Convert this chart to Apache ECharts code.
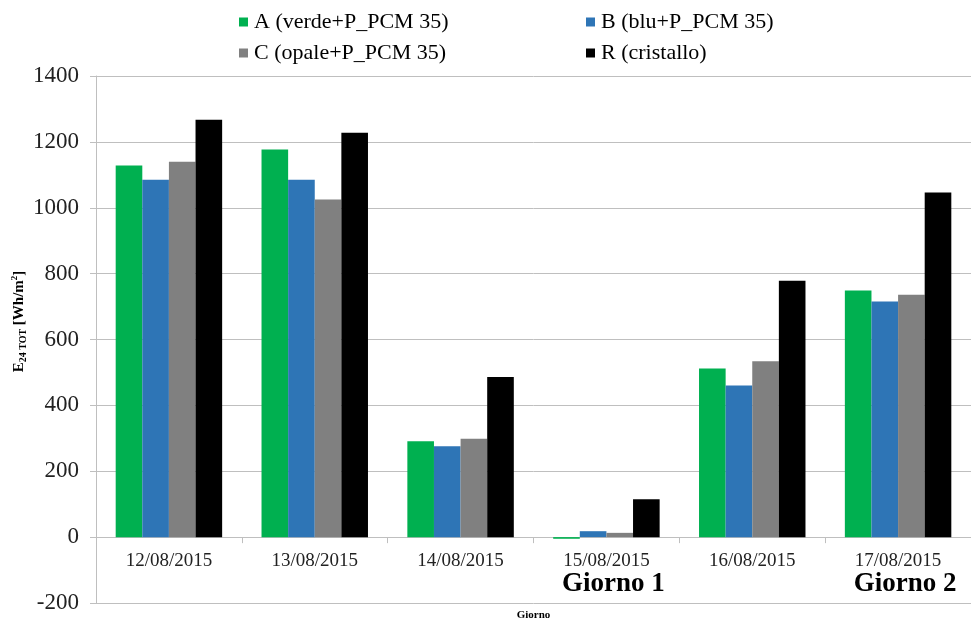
<!DOCTYPE html>
<html>
<head>
<meta charset="utf-8">
<script src="https://cdn.jsdelivr.net/npm/echarts@6/dist/echarts.min.js"></script>
<style>
  html, body { margin: 0; padding: 0; background: #fff; }
  #main { width: 971px; height: 624px; }
</style>
</head>
<body>
<div id="main"></div>
<script>
var chartDom = document.getElementById('main');
var myChart = echarts.init(chartDom);

// giorni
var days = ['12/08/2015', '13/08/2015', '14/08/2015', '15/08/2015', '16/08/2015', '17/08/2015'];
var dayNotes = ['', '', '', 'Giorno 1', '', 'Giorno 2'];

var seriesNames = ['A (verde+P_PCM 35)', 'B (blu+P_PCM 35)', 'C (opale+P_PCM 35)', 'R (cristallo)'];
var seriesColors = ['#00B050', '#2E75B6', '#808080', '#000000'];

// E24 TOT [Wh/m2]
var valuesA = [1128, 1177, 291, -5, 512, 749];
var valuesB = [1085, 1085, 276, 18, 460, 715];
var valuesC = [1140, 1025, 299, 13, 534, 736];
var valuesR = [1267, 1228, 486, 115, 778, 1046];

var allValues = [valuesA, valuesB, valuesC, valuesR];

var serif = 'Liberation Serif';

// legend items at fixed spots, 2 x 2
var legendPos = [[234, 6], [581, 6], [234, 37], [581, 37]];
var legends = seriesNames.map(function (n, i) {
    return {
        data: [n],
        left: legendPos[i][0],
        top: legendPos[i][1],
        icon: 'rect',
        itemWidth: 9,
        itemHeight: 9,
        itemGap: 6,
        textStyle: { fontFamily: serif, fontSize: 22, color: '#000', padding: [0, 0, 0, 1] }
    };
});

var option = {
    animation: false,
    color: seriesColors,
    textStyle: { fontFamily: serif },
    legend: legends,
    grid: {
        left: 96,
        right: 0,
        top: 76,
        bottom: 21,
        containLabel: false,
        outerBoundsMode: 'none'
    },
    xAxis: {
        type: 'category',
        data: days,
        name: 'Giorno',
        nameLocation: 'middle',
        nameGap: 7,
        nameTextStyle: { fontFamily: serif, fontSize: 11, fontWeight: 'bold', color: '#000' },
        axisLine: { show: true, onZero: true, lineStyle: { color: '#bfbfbf', width: 1 } },
        axisTick: { show: true, length: 6, lineStyle: { color: '#bfbfbf' } },
        axisLabel: {
            margin: -52,
            fontFamily: serif,
            fontSize: 19,
            color: '#222',
            lineHeight: 20,
            formatter: function (value, idx) {
                var note = dayNotes[idx];
                if (note) {
                    return value + '\n{g|' + note + '}';
                }
                return value;
            },
            rich: {
                g: {
                    fontFamily: serif,
                    fontSize: 27,
                    fontWeight: 'bold',
                    color: '#000',
                    lineHeight: 26,
                    padding: [0, 0, 0, 14]
                }
            }
        }
    },
    yAxis: {
        type: 'value',
        min: -200,
        max: 1400,
        interval: 200,
        name: '{e|E}{s|24 TOT}{e| [Wh/m}{p|2}{e|]}',
        nameLocation: 'middle',
        nameGap: 68,
        nameMoveOverlap: false,
        nameRotate: 90,
        nameTextStyle: {
            padding: [0, 0, 0, 36],
            rich: {
                e: { fontFamily: serif, fontSize: 15, fontWeight: 'bold', color: '#000' },
                s: { fontFamily: serif, fontSize: 10, fontWeight: 'bold', color: '#000', padding: [8, 0, 0, 0] },
                p: { fontFamily: serif, fontSize: 9, fontWeight: 'bold', color: '#000', padding: [0, 0, 8, 0] }
            }
        },
        axisLine: { show: true, lineStyle: { color: '#bfbfbf', width: 1 } },
        axisTick: { show: true, length: 6, lineStyle: { color: '#bfbfbf' } },
        axisLabel: {
            margin: 17,
            fontFamily: serif,
            fontSize: 23,
            color: '#222',
            formatter: function (v) { return String(v); }
        },
        splitLine: { show: true, lineStyle: { color: '#bfbfbf', width: 1 } }
    },
    series: allValues.map(function (vals, i) {
        return {
            name: seriesNames[i],
            type: 'bar',
            data: vals,
            barGap: '0%',
            barCategoryGap: '27%',
            itemStyle: { color: seriesColors[i] }
        };
    })
};

option && myChart.setOption(option);
</script>
</body>
</html>
